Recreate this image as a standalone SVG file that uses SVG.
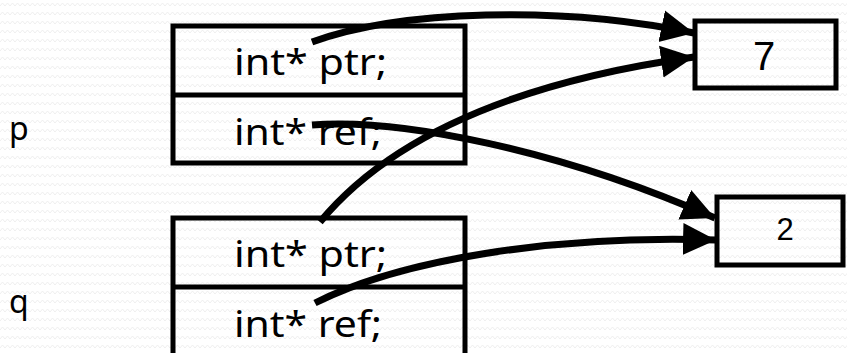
<svg xmlns="http://www.w3.org/2000/svg" width="847" height="353" viewBox="0 0 847 353">
  <defs>
    <pattern id="zz" width="10" height="9" patternUnits="userSpaceOnUse">
      <rect width="10" height="9" fill="#ffffff"/>
      <path d="M0,6 L2.5,3 L5,6 L7.5,3 L10,6" fill="none" stroke="#efefef" stroke-width="1"/>
    </pattern>
    <marker id="ah" markerUnits="userSpaceOnUse" markerWidth="36" markerHeight="34" refX="33" refY="17" orient="auto">
      <path d="M0,1 L33,17 L0,33 Z" fill="#000"/>
    </marker>
    <style>
      .box { fill: none; stroke: #000; stroke-width: 5; }
      .f { font-family: "Noto Sans", "Liberation Sans", sans-serif; font-size: 37px; fill: #000; }
      .lbl { font-family: "Noto Sans", "Liberation Sans", sans-serif; font-size: 32px; fill: #000; }
      .v { font-family: "Liberation Sans", Arial, sans-serif; fill: #000; text-anchor: middle; }
      .v7 { font-size: 40px; }
      .v2 { font-size: 31px; }
      .edge { fill: none; stroke: #000; stroke-width: 7; marker-end: url(#ah); }
    </style>
  </defs>
  <rect width="847" height="353" fill="url(#zz)"/>

  <g id="label-p"><text class="lbl" x="9" y="140">p</text></g>
  <g id="label-q"><text class="lbl" x="9" y="313">q</text></g>

  <g id="struct-p">
    <rect class="box" x="173" y="26" width="292" height="137"/>
    <line class="box" x1="173" y1="95" x2="465" y2="95"/>
    <text class="f" x="234" y="75" textLength="153" lengthAdjust="spacingAndGlyphs">int* ptr;</text>
    <text class="f" x="234" y="145" textLength="148" lengthAdjust="spacingAndGlyphs">int* ref;</text>
  </g>

  <g id="struct-q">
    <rect class="box" x="173" y="218" width="292" height="150"/>
    <line class="box" x1="173" y1="287" x2="465" y2="287"/>
    <text class="f" x="234" y="267" textLength="153" lengthAdjust="spacingAndGlyphs">int* ptr;</text>
    <text class="f" x="234" y="337" textLength="148" lengthAdjust="spacingAndGlyphs">int* ref;</text>
  </g>

  <g id="val-7">
    <rect class="box" x="695" y="21" width="141" height="67"/>
    <text class="v v7" x="764" y="70">7</text>
  </g>

  <g id="val-2">
    <rect class="box" x="717" y="197" width="126" height="68"/>
    <text class="v v2" x="785" y="240">2</text>
  </g>

  <g id="connectors">
    <path class="edge" d="M312,42 C400,10 560,5 694,33"/>
    <path class="edge" d="M320,222 Q425,95 694,57"/>
    <path class="edge" d="M312,125 C400,118 560,150 715,218"/>
    <path class="edge" d="M315,303 C400,260 550,235 716,240"/>
  </g>
</svg>
